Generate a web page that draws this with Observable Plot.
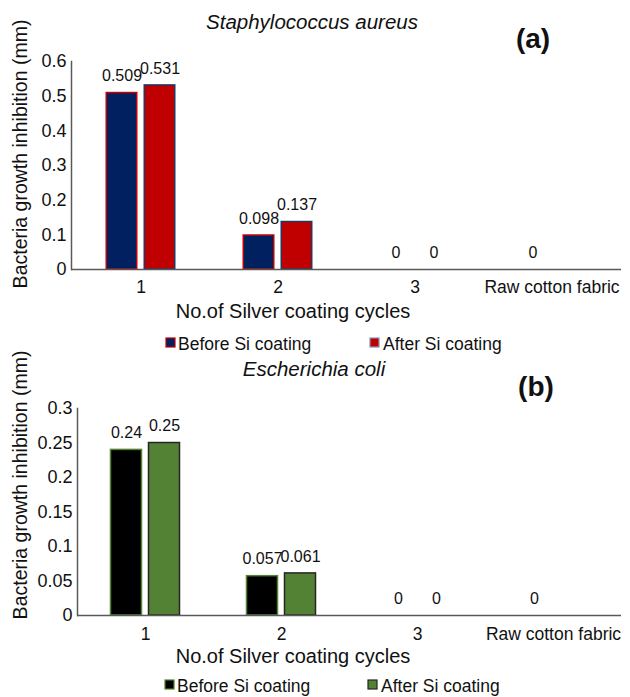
<!DOCTYPE html>
<html>
<head>
<meta charset="utf-8">
<script src="https://cdn.jsdelivr.net/npm/d3@7"></script>
<script src="https://cdn.jsdelivr.net/npm/@observablehq/plot@0.6"></script>
<style>
  html, body { margin: 0; padding: 0; background: #fff; }
  #root { position: relative; width: 630px; height: 697px; overflow: hidden; font-family: "Liberation Sans", Arial, sans-serif; }
  .panel { position: absolute; left: 0; }
  #overlay { position: absolute; left: 0; top: 0; pointer-events: none; }
</style>
</head>
<body>
<div id="root"></div>
<script>
// ---- data ----
const categories = ["1", "2", "3", "Raw cotton fabric"];
const seriesNames = ["Before Si coating", "After Si coating"];
const saBefore = [0.509, 0.098, 0, 0];
const saAfter = [0.531, 0.137, 0, null];
const ecBefore = [0.24, 0.057, 0, 0];
const ecAfter = [0.25, 0.061, 0, null];
const saTicks = [0, 0.1, 0.2, 0.3, 0.4, 0.5, 0.6];
const ecTicks = [0, 0.05, 0.1, 0.15, 0.2, 0.25, 0.3];
const titles = ["Staphylococcus aureus", "Escherichia coli"];
const panelTags = ["(a)", "(b)"];
const yLabel = "Bacteria growth inhibition (mm)";
const xLabel = "No.of Silver coating cycles";

const FONT = '"Liberation Sans", Arial, sans-serif';
const root = document.getElementById("root");

function rowsOf(before, after) {
  const rows = [];
  categories.forEach((c, i) => {
    if (before[i] != null) rows.push({cat: c, series: seriesNames[0], v: before[i]});
    if (after[i] != null) rows.push({cat: c, series: seriesNames[1], v: after[i]});
  });
  return rows;
}

function panel(cfg) {
  const rows = rowsOf(cfg.before, cfg.after);
  const step = (630 - cfg.ml - cfg.mr) / categories.length;
  const inset = (step - 31) / 2;
  const bef = rows.filter(d => d.series === seriesNames[0]);
  const aft = rows.filter(d => d.series === seriesNames[1]);
  const fmt = d => String(+d.toFixed(3));
  const chart = Plot.plot({
    width: 630,
    height: cfg.height,
    marginTop: cfg.mt,
    marginBottom: cfg.mb,
    marginLeft: cfg.ml,
    marginRight: cfg.mr,
    style: {fontFamily: FONT, color: "#000", background: "transparent"},
    x: {domain: categories, type: "band", padding: 0, axis: null},
    y: {domain: [0, cfg.yMax], axis: null},
    marks: [
      Plot.barY(bef.filter(d => d.v > 0), {x: "cat", y: "v", dx: -19, insetLeft: inset, insetRight: inset,
        fill: cfg.c1.fill, stroke: cfg.c1.stroke, strokeWidth: 1.5}),
      Plot.barY(aft.filter(d => d.v > 0), {x: "cat", y: "v", dx: 19, insetLeft: inset, insetRight: inset,
        fill: cfg.c2.fill, stroke: cfg.c2.stroke, strokeWidth: 1.5}),
      Plot.text(bef, {x: "cat", y: "v", text: d => String(d.v), dx: -19, dy: -17, lineAnchor: "middle",
        fontSize: 16, fill: "#111"}),
      Plot.text(aft, {x: "cat", y: "v", text: d => String(d.v), dx: 19, dy: -17, lineAnchor: "middle",
        fontSize: 16, fill: "#111"}),
      Plot.frame({anchor: "left", stroke: "#595959", strokeWidth: 1.5}),
      Plot.ruleY([0], {stroke: "#595959", strokeWidth: 1.5}),
      Plot.axisY({ticks: cfg.ticks, tickFormat: fmt, tickSize: 0, tickPadding: 5, fontSize: 18, label: null, fill: "#111"}),
      Plot.axisX({tickSize: 0, tickPadding: cfg.xPad, fontSize: 17.5, label: null, fill: "#111"})
    ]
  });
  const wrap = document.createElement("div");
  wrap.className = "panel";
  wrap.style.top = cfg.top + "px";
  wrap.appendChild(chart);
  root.appendChild(wrap);
}

panel({before: saBefore, after: saAfter, yMax: 0.6, ticks: saTicks, top: 0, height: 300,
  mt: 61, mb: 31, ml: 71, mr: 9, xPad: 11,
  c1: {fill: "#002060", stroke: "#C00000"}, c2: {fill: "#C00000", stroke: "#1F3864"}});
panel({before: ecBefore, after: ecAfter, yMax: 0.3, ticks: ecTicks, top: 330, height: 320,
  mt: 78, mb: 35, ml: 77, mr: 9, xPad: 12.5,
  c1: {fill: "#000000", stroke: "#548235"}, c2: {fill: "#548235", stroke: "#262626"}});

// ---- overlay: titles, axis titles, legends ----
const svg = d3.select(root).append("svg").attr("id", "overlay")
  .attr("width", 630).attr("height", 697)
  .style("font-family", FONT).attr("fill", "#111");

// titles
svg.append("text").attr("x", 312).attr("y", 29).attr("text-anchor", "middle")
  .attr("font-size", 20.5).attr("font-style", "italic").text(titles[0]);
svg.append("text").attr("x", 314).attr("y", 376).attr("text-anchor", "middle")
  .attr("font-size", 20.5).attr("font-style", "italic").text(titles[1]);
svg.append("text").attr("x", 533).attr("y", 48).attr("text-anchor", "middle")
  .attr("font-size", 28).attr("font-weight", "bold").text(panelTags[0]);
svg.append("text").attr("x", 536).attr("y", 396).attr("text-anchor", "middle")
  .attr("font-size", 28).attr("font-weight", "bold").text(panelTags[1]);

// y labels
svg.append("text").attr("transform", "translate(27,154) rotate(-90)").attr("text-anchor", "middle")
  .attr("font-size", 19.5).text(yLabel);
svg.append("text").attr("transform", "translate(27,485) rotate(-90)").attr("text-anchor", "middle")
  .attr("font-size", 19.5).text(yLabel);

// x labels
svg.append("text").attr("x", 293).attr("y", 318).attr("text-anchor", "middle")
  .attr("font-size", 20).text(xLabel);
svg.append("text").attr("x", 293).attr("y", 663).attr("text-anchor", "middle")
  .attr("font-size", 20).text(xLabel);

// legends
function legend(y, sw1, sw2, x1, x2) {
  svg.append("rect").attr("x", x1).attr("y", y - 12).attr("width", 9).attr("height", 9)
    .attr("fill", sw1.fill).attr("stroke", sw1.stroke).attr("stroke-width", 1.2);
  svg.append("text").attr("x", x1 + 12).attr("y", y).attr("font-size", 17.5).text(seriesNames[0]);
  svg.append("rect").attr("x", x2).attr("y", y - 12).attr("width", 9).attr("height", 9)
    .attr("fill", sw2.fill).attr("stroke", sw2.stroke).attr("stroke-width", 1.2);
  svg.append("text").attr("x", x2 + 13).attr("y", y).attr("font-size", 17.5).text(seriesNames[1]);
}
legend(350, {fill: "#002060", stroke: "#C00000"}, {fill: "#C00000", stroke: "#8497B0"}, 166, 370);
legend(692, {fill: "#000000", stroke: "#548235"}, {fill: "#548235", stroke: "#262626"}, 165, 368);
</script>
</body>
</html>
